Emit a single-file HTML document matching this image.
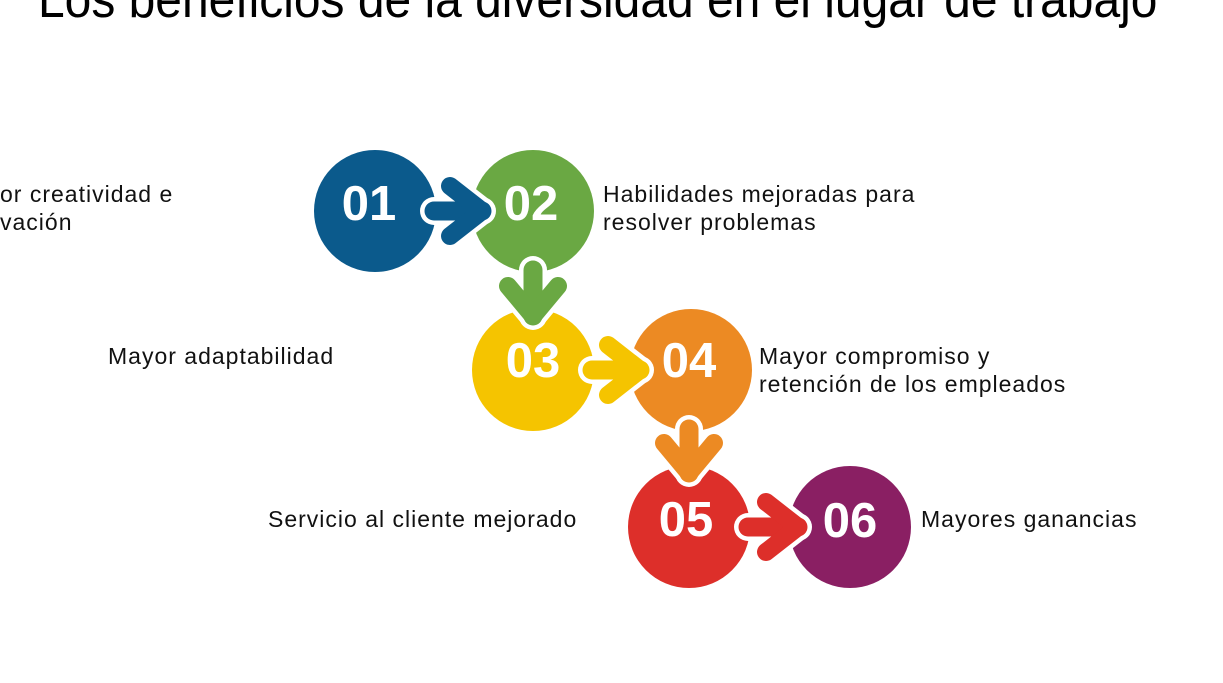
<!DOCTYPE html>
<html><head><meta charset="utf-8"><style>
body{margin:0;width:1223px;height:683px;background:#fff;position:relative;overflow:hidden;font-family:"Liberation Sans",sans-serif}
.t{position:absolute;font-size:23px;letter-spacing:1px;line-height:28px;color:#111;white-space:nowrap}
h1{position:absolute;left:38px;top:-26px;margin:0;font-weight:normal;font-size:52px;line-height:52px;color:#000;white-space:nowrap;transform:scaleX(0.922);transform-origin:left}
</style></head><body>
<h1>Los beneficios de la diversidad en el lugar de trabajo</h1>
<svg width="1223" height="683" style="position:absolute;left:0;top:0">
<g font-family="Liberation Sans" font-weight="bold" font-size="49" fill="#fff" text-anchor="middle">
<circle cx="375" cy="211" r="61" fill="#0b5a8c"/>
<circle cx="533" cy="211" r="61" fill="#6aa843"/>
<g fill="none" stroke-linecap="round" stroke-linejoin="round">
<polyline points="434,211 482,211" stroke="#fff" stroke-width="28"/>
<polyline points="450,186 482,211 450,236" stroke="#fff" stroke-width="27"/>
<polyline points="434,211 482,211" stroke="#0b5a8c" stroke-width="19"/>
<polyline points="450,186 482,211 450,236" stroke="#0b5a8c" stroke-width="18"/>
</g>
<text x="369" y="220">01</text>
<text x="531" y="220">02</text>
<circle cx="533" cy="370" r="61" fill="#f5c400"/>
<g fill="none" stroke-linecap="round" stroke-linejoin="round">
<polyline points="533,270 533,316" stroke="#fff" stroke-width="28"/>
<polyline points="508,286 533,316 558,286" stroke="#fff" stroke-width="27"/>
<polyline points="533,270 533,316" stroke="#6aa843" stroke-width="19"/>
<polyline points="508,286 533,316 558,286" stroke="#6aa843" stroke-width="18"/>
</g>
<circle cx="691" cy="370" r="61" fill="#ec8a23"/>
<g fill="none" stroke-linecap="round" stroke-linejoin="round">
<polyline points="592,370 640,370" stroke="#fff" stroke-width="28"/>
<polyline points="608,345 640,370 608,395" stroke="#fff" stroke-width="27"/>
<polyline points="592,370 640,370" stroke="#f5c400" stroke-width="19"/>
<polyline points="608,345 640,370 608,395" stroke="#f5c400" stroke-width="18"/>
</g>
<text x="533" y="377">03</text>
<text x="689" y="377">04</text>
<circle cx="689" cy="527" r="61" fill="#dd2f2a"/>
<g fill="none" stroke-linecap="round" stroke-linejoin="round">
<polyline points="689,429 689,473" stroke="#fff" stroke-width="28"/>
<polyline points="664,443 689,473 714,443" stroke="#fff" stroke-width="27"/>
<polyline points="689,429 689,473" stroke="#ec8a23" stroke-width="19"/>
<polyline points="664,443 689,473 714,443" stroke="#ec8a23" stroke-width="18"/>
</g>
<circle cx="850" cy="527" r="61" fill="#8a1f63"/>
<g fill="none" stroke-linecap="round" stroke-linejoin="round">
<polyline points="748,527 798,527" stroke="#fff" stroke-width="28"/>
<polyline points="766,502 798,527 766,552" stroke="#fff" stroke-width="27"/>
<polyline points="748,527 798,527" stroke="#dd2f2a" stroke-width="19"/>
<polyline points="766,502 798,527 766,552" stroke="#dd2f2a" stroke-width="18"/>
</g>
<text x="686" y="536">05</text>
<text x="850" y="537">06</text>
</g>
</svg>
<div class="t" style="left:0;top:180px">or creatividad e<br>vación</div>
<div class="t" style="left:603px;top:180px">Habilidades mejoradas para<br>resolver problemas</div>
<div class="t" style="left:108px;top:342px">Mayor adaptabilidad</div>
<div class="t" style="left:759px;top:342px">Mayor compromiso y<br>retención de los empleados</div>
<div class="t" style="left:268px;top:505px">Servicio al cliente mejorado</div>
<div class="t" style="left:921px;top:505px">Mayores ganancias</div>
</body></html>
